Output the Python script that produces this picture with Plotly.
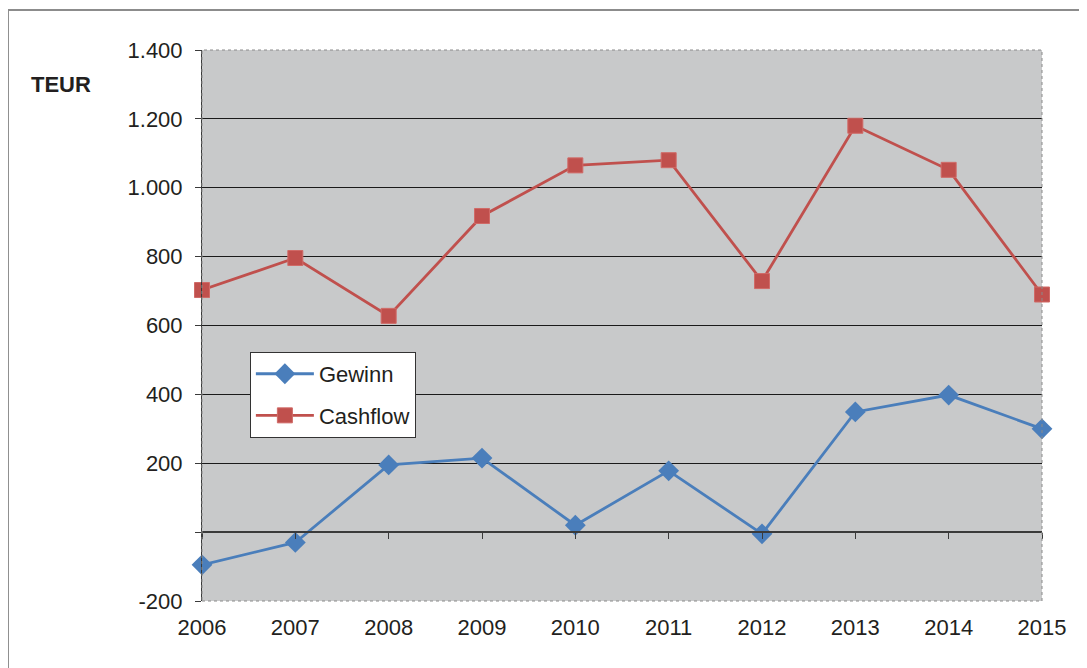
import plotly.graph_objects as go

years = [2006, 2007, 2008, 2009, 2010, 2011, 2012, 2013, 2014, 2015]
gewinn = [-95, -30, 195, 215, 20, 178, -5, 349, 398, 300]
cashflow = [703, 796, 628, 918, 1065, 1080, 729, 1180, 1052, 690]
y_ticks_grid = [0, 200, 400, 600, 800, 1000, 1200]
y_text_grid = ["", "200", "400", "600", "800", "1.000", "1.200"]
y_ticks_edge = [-200, 1400]
y_text_edge = ["-200", "1.400"]

FONT = "Liberation Sans, Arial, sans-serif"
BLUE = "#4a7ebb"
RED = "#c0504d"
YR = [-200, 1400]
XR = [2006, 2015]
FS = 22

fig = go.Figure()
fig.add_trace(go.Scatter(x=years, y=gewinn, name="Gewinn", mode="lines+markers",
                         legendgroup="g",
                         line=dict(color=BLUE, width=2.8),
                         marker=dict(symbol="diamond", size=16, color=BLUE),
                         cliponaxis=False))
fig.add_trace(go.Scatter(x=years, y=cashflow, name="Cashflow", mode="lines+markers",
                         legendgroup="c",
                         line=dict(color=RED, width=2.8),
                         marker=dict(symbol="square", size=15, color=RED,
                                     line=dict(color="#d06a67", width=1)),
                         cliponaxis=False))
# helper (empty) trace for overlay axes
fig.add_trace(go.Scatter(x=[], y=[], xaxis="x2", yaxis="y2", showlegend=False, hoverinfo="skip"))

fig.update_layout(
    width=1079, height=660,
    margin=dict(l=194, r=45, t=42, b=67),
    paper_bgcolor="white",
    plot_bgcolor="#c8c9ca",
    font=dict(family=FONT, size=FS, color="#231f20"),
    xaxis=dict(range=XR, tickvals=years, ticktext=[str(y) for y in years],
               showgrid=False, zeroline=False, showline=False, ticks="",
               ticklabelstandoff=11, fixedrange=True),
    yaxis=dict(range=YR, tickvals=y_ticks_grid, ticktext=y_text_grid,
               showgrid=True, gridcolor="#1a1a1a", gridwidth=1,
               zeroline=False, showline=True, linecolor="#3a3a3a", linewidth=1,
               ticks="outside", ticklen=6, tickcolor="#3a3a3a",
               ticklabelstandoff=8),
    xaxis2=dict(range=XR, overlaying="x", anchor="free", position=0.125,
                tickvals=years, showticklabels=False, showgrid=False, zeroline=False,
                showline=True, linecolor="#3a3a3a", linewidth=1.5,
                ticks="outside", ticklen=6, tickcolor="#3a3a3a"),
    yaxis2=dict(range=YR, overlaying="y", anchor="x", side="left",
                tickvals=y_ticks_edge, ticktext=y_text_edge,
                showgrid=False, zeroline=False, showline=False,
                ticks="outside", ticklen=6, tickcolor="#3a3a3a",
                ticklabelstandoff=8),
    legend=dict(x=0.057, y=0.452, xanchor="left", yanchor="top",
                bgcolor="white", bordercolor="#333333", borderwidth=1,
                font=dict(family=FONT, size=FS, color="#231f20"),
                itemwidth=58, tracegroupgap=10),
    showlegend=True,
    shapes=[
        dict(type="rect", xref="paper", yref="paper", x0=0, x1=1, y0=0, y1=1,
             line=dict(color="#8a8a8a", width=1, dash="dot"), layer="above"),
        dict(type="rect", xref="paper", yref="paper", x0=-0.231, x1=1.2, y0=-0.3, y1=1.0726,
             line=dict(color="#8c8c8c", width=2), layer="below"),
    ],
    annotations=[
        dict(text="<b>TEUR</b>", xref="paper", yref="paper", x=-0.2060, y=0.938,
             xanchor="left", yanchor="middle", showarrow=False,
             font=dict(family=FONT, size=FS, color="#231f20")),
    ],
)

fig.write_html("out.html")
